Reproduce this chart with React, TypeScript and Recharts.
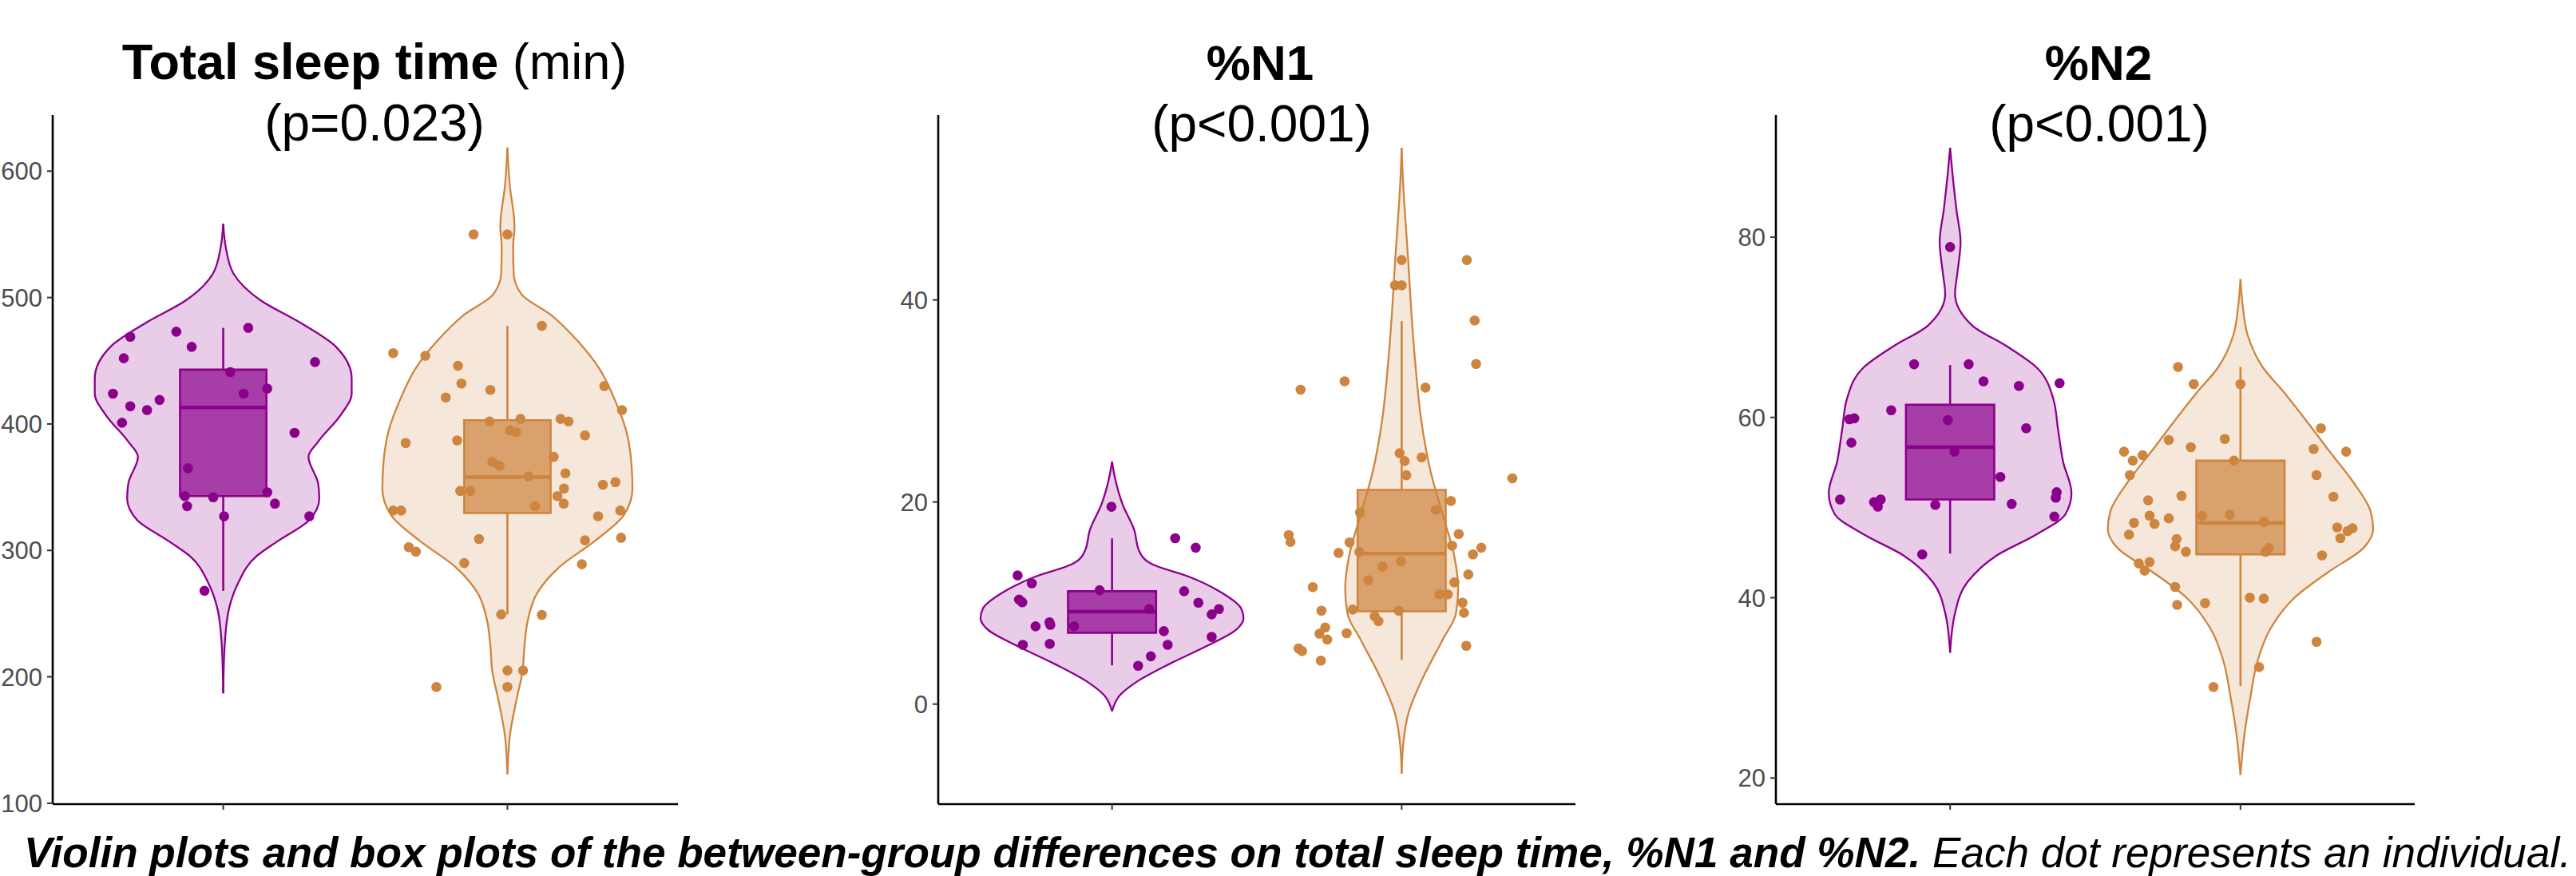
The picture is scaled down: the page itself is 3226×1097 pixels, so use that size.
import {
  ComposedChart,
  Area,
  Scatter,
  XAxis,
  YAxis,
  ReferenceArea,
  ReferenceLine
} from "recharts";

const PURPLE = "#8B008B";
const ORANGE = "#CD853F";
const FONT = "'Liberation Sans', Arial, Helvetica, sans-serif";

// two groups sit at x = 1 and x = 2 on a numeric axis
const GROUP_CENTERS = [1, 2];
const X_DOMAIN = [0.4, 2.6];
const BOX_HALF = 0.152;

// ---- Total sleep time (min) ----
const tstTicks = [100, 200, 300, 400, 500, 600];
const tstPurpleViolinY = [558.5, 539.8, 519, 498, 480, 461, 436, 424, 407, 386, 374, 353, 341, 324, 307.5, 295, 274, 253.5, 224.5, 187];
const tstPurpleViolinW = [0, 0.009, 0.036, 0.13, 0.272, 0.397, 0.452, 0.452, 0.413, 0.334, 0.3, 0.334, 0.338, 0.303, 0.193, 0.115, 0.052, 0.02, 0.005, 0];
const tstOrangeViolinY = [618.7, 589.6, 556.4, 539.8, 519, 502.5, 486, 465, 444, 419, 394.6, 369.7, 349, 328, 307.5, 286.7, 266, 245, 224.5, 204, 183, 154, 123];
const tstOrangeViolinW = [0, 0.008, 0.025, 0.02, 0.022, 0.05, 0.155, 0.25, 0.323, 0.378, 0.418, 0.436, 0.44, 0.41, 0.308, 0.182, 0.104, 0.072, 0.06, 0.053, 0.033, 0.009, 0];
// [lower whisker, q1, median, q3, upper whisker]
const tstPurpleBox = [268, 343, 413, 443, 476];
const tstOrangeBox = [249.4, 329.5, 358, 403, 477.6];
const tstPurpleJitter = [-0.327, -0.35, -0.388, -0.327, -0.268, -0.224, -0.356, -0.165, -0.111, 0.025, 0.088, 0.072, 0.155, 0.323, 0.251, -0.124, -0.135, -0.127, -0.035, 0.155, 0.182, 0.003, 0.303, -0.066];
const tstPurpleValues = [469, 452, 424, 414, 411, 419, 401, 473, 461, 441, 476, 424, 428, 449, 393, 365, 343, 335, 342, 346, 337, 327, 327, 268];
const tstOrangeJitter = [-0.119, 0, 0.121, -0.402, -0.289, -0.174, -0.162, -0.06, -0.217, 0.341, 0.403, -0.063, 0.046, 0.187, 0.215, 0.009, 0.03, 0.273, -0.358, -0.177, 0.163, -0.053, -0.028, 0.204, 0.074, -0.166, -0.13, 0.199, 0.176, 0.198, 0.097, 0.38, 0.336, -0.402, -0.374, 0.319, 0.397, -0.1, 0.273, 0.4, -0.347, -0.322, -0.152, 0.262, -0.022, 0.121, 0, 0.055, -0.25, 0];
const tstOrangeValues = [550, 550, 477.6, 456, 454, 446, 432, 427, 421, 430, 411, 402, 404, 404, 402, 395, 393.5, 391, 385, 387, 374, 370, 367, 361, 358.5, 347, 347, 349, 343, 337, 335, 354, 352, 331.5, 331.5, 327, 331.5, 309, 308, 310, 302.5, 299, 290, 289, 249.4, 249, 205, 205, 192, 192];

// ---- %N1 ----
const n1Ticks = [0, 20, 40];
const n1PurpleViolinY = [24, 22.4, 19.8, 17.2, 15.2, 13.9, 12.6, 11, 9.45, 8.5, 7.4, 5.8, 4, 2.2, 0.9, -0.7];
const n1PurpleViolinW = [0, 0.01, 0.036, 0.077, 0.093, 0.134, 0.266, 0.38, 0.446, 0.454, 0.43, 0.331, 0.2, 0.085, 0.028, 0];
const n1OrangeViolinY = [55.06, 51.5, 47.9, 43.7, 38.5, 33.4, 28.2, 23, 18.8, 14.6, 11.5, 8.94, 6.34, 2.7, -0.94, -4.05, -6.9];
const n1OrangeViolinW = [0, 0.005, 0.013, 0.023, 0.034, 0.048, 0.067, 0.1, 0.141, 0.182, 0.195, 0.187, 0.141, 0.075, 0.023, 0.005, 0];
const n1PurpleBox = [3.84, 7.06, 9.14, 11.17, 16.4];
const n1OrangeBox = [4.36, 9.19, 14.9, 21.2, 37.9];
const n1PurpleJitter = [-0.326, -0.277, -0.321, -0.31, -0.264, -0.216, -0.213, -0.308, -0.215, -0.131, -0.043, -0.002, 0.128, 0.179, 0.192, 0.134, 0.09, 0.218, 0.289, 0.249, 0.298, 0.344, 0.369, 0.344];
const n1PurpleValues = [12.73, 11.95, 10.34, 10.08, 7.69, 8.1, 7.84, 5.87, 5.97, 7.69, 11.27, 19.53, 9.4, 7.22, 5.87, 4.73, 3.79, 16.42, 15.48, 11.17, 10.03, 8.88, 9.4, 6.65];
const n1OrangeJitter = [0, 0.225, -0.023, 0, 0.252, 0.257, -0.197, -0.349, 0.082, -0.007, 0.01, 0.069, 0.016, 0.382, 0.17, -0.144, 0.118, -0.39, -0.384, -0.18, 0.197, -0.218, -0.146, -0.066, -0.003, 0.174, 0.246, 0.275, -0.115, -0.307, 0.182, 0.23, 0.131, 0.159, -0.277, -0.169, -0.01, 0.21, 0.215, -0.093, -0.08, -0.264, -0.284, -0.19, -0.257, -0.356, -0.344, 0.223, -0.279];
const n1OrangeValues = [43.95, 43.95, 41.45, 41.45, 37.97, 33.66, 31.95, 31.12, 31.32, 24.83, 24.05, 24.42, 22.65, 22.34, 20.1, 18.96, 19.22, 16.73, 16.05, 16, 16.83, 14.96, 15.06, 13.61, 14.13, 15.69, 14.81, 15.48, 12.26, 11.58, 12.05, 12.83, 10.86, 10.86, 9.25, 9.35, 9.25, 10.03, 9.04, 8.68, 8.21, 7.58, 6.96, 7.01, 6.39, 5.51, 5.25, 5.77, 4.31];

// ---- %N2 ----
const n2Ticks = [20, 40, 60, 80];
const n2PurpleViolinY = [89.9, 87.1, 83, 79.5, 76, 73.7, 70.2, 67.9, 65.6, 62.1, 58.6, 55.1, 51.6, 49.3, 47, 44.7, 41.7, 38.3, 33.9];
const n2PurpleViolinW = [0, 0.008, 0.022, 0.036, 0.025, 0.017, 0.076, 0.195, 0.296, 0.355, 0.372, 0.389, 0.418, 0.398, 0.296, 0.161, 0.059, 0.017, 0];
const n2OrangeViolinY = [75.35, 72.6, 69.1, 65.6, 62.7, 59.2, 56.3, 52.8, 49.6, 47.6, 45.5, 42.9, 40, 36.5, 33, 28.95, 24.9, 20.35];
const n2OrangeViolinW = [0, 0.007, 0.025, 0.076, 0.152, 0.237, 0.305, 0.389, 0.448, 0.457, 0.423, 0.305, 0.186, 0.102, 0.059, 0.034, 0.014, 0];
const n2PurpleBox = [44.9, 50.9, 56.7, 61.4, 65.8];
const n2OrangeBox = [30.2, 44.8, 48.3, 55.2, 65.6];
const n2PurpleJitter = [0, -0.124, 0.064, 0.115, 0.237, 0.377, -0.203, -0.347, -0.33, -0.34, -0.008, 0.262, 0.015, 0.173, -0.379, -0.262, -0.239, -0.249, -0.051, 0.212, 0.367, 0.364, 0.359, -0.096];
const n2PurpleValues = [78.9, 65.9, 65.9, 64, 63.5, 63.8, 60.8, 59.8, 59.9, 57.2, 59.7, 58.8, 56.2, 53.4, 50.9, 50.6, 50.9, 50.1, 50.3, 50.4, 51.7, 51.1, 49, 44.8];
const n2OrangeJitter = [-0.215, -0.161, 0, 0.277, -0.247, -0.054, -0.171, -0.401, -0.337, -0.371, 0.252, 0.364, -0.022, -0.381, 0.262, -0.318, -0.203, 0.32, -0.313, -0.132, -0.037, -0.367, -0.296, -0.247, 0.081, 0.333, 0.386, 0.369, 0.344, -0.384, -0.22, -0.225, -0.188, 0.086, 0.098, 0.281, -0.35, -0.313, -0.33, -0.225, -0.218, -0.122, 0.032, 0.08, 0.262, 0.064, -0.093];
const n2OrangeValues = [65.6, 63.7, 63.7, 58.8, 57.5, 57.6, 56.7, 56.2, 55.8, 55.2, 56.5, 56.2, 55.2, 53.6, 53.6, 50.8, 51.3, 51.2, 49.1, 49.1, 49.2, 48.3, 48.2, 48.8, 48.4, 47.8, 47.7, 47.4, 46.6, 47, 46.5, 45.7, 45.1, 45.1, 45.5, 44.7, 43.8, 43.95, 43, 41.2, 39.2, 39.4, 40, 39.9, 35.1, 32.3, 30.1];

type Group = {
  color: string;
  violinY: number[];
  violinW: number[];
  box: number[];
  jitter: number[];
  values: number[];
};

// one row per y level, each violin as a [left, right] range (nulls where it is absent)
function buildViolinRows(groups: Group[]) {
  const rows = new Map<number, any>();
  groups.forEach((g, gi) => {
    const c = GROUP_CENTERS[gi];
    g.violinY.forEach((y, i) => {
      const row = rows.get(y) ?? { y };
      row[`v${gi}`] = [c - g.violinW[i], c + g.violinW[i]];
      rows.set(y, row);
    });
  });
  const list = [...rows.values()].sort((a, b) => b.y - a.y);
  list.forEach((r) => {
    groups.forEach((_, gi) => {
      if (!r[`v${gi}`]) r[`v${gi}`] = [null, null];
    });
  });
  return list;
}

function ViolinPanel({ left, width, domain, ticks, groups }: { left: number; width: number; domain: number[]; ticks: number[]; groups: Group[] }) {
  const rows = buildViolinRows(groups);
  return (
    <div style={{ position: "absolute", left, top: 0 }}>
      <ComposedChart
        width={width}
        height={1040}
        layout="vertical"
        data={rows}
        margin={{ top: 144, right: 20, bottom: 17, left: 0 }}
      >
        <XAxis
          type="number"
          dataKey="x"
          domain={X_DOMAIN}
          allowDataOverflow
          ticks={GROUP_CENTERS}
          interval={0}
          height={16}
          tickFormatter={() => ""}
          tickSize={7}
          axisLine={{ stroke: "#000", strokeWidth: 2.6 }}
          tickLine={{ stroke: "#333", strokeWidth: 2 }}
        />
        <YAxis
          type="number"
          dataKey="y"
          domain={domain}
          allowDataOverflow
          reversed
          ticks={ticks}
          interval={0}
          width={66}
          tickSize={7}
          tickMargin={6}
          tick={{ fill: "#4D4D4D", fontSize: 31, fontFamily: FONT }}
          axisLine={{ stroke: "#000", strokeWidth: 2.6 }}
          tickLine={{ stroke: "#333", strokeWidth: 2 }}
        />
        {groups.map((g, gi) => (
          <Area
            key={`violin-${gi}`}
            dataKey={`v${gi}`}
            type="monotone"
            connectNulls
            fill={g.color}
            fillOpacity={0.2}
            stroke={g.color}
            strokeWidth={2.3}
            dot={false}
            activeDot={false}
            isAnimationActive={false}
          />
        ))}
        {groups.map((g, gi) => {
          const c = GROUP_CENTERS[gi];
          const [lo, q1, med, q3, hi] = g.box;
          return [
            <ReferenceLine key={`wu-${gi}`} segment={[{ x: c, y: q3 }, { x: c, y: hi }]} stroke={g.color} strokeWidth={2.6} ifOverflow="visible" />,
            <ReferenceLine key={`wl-${gi}`} segment={[{ x: c, y: lo }, { x: c, y: q1 }]} stroke={g.color} strokeWidth={2.6} ifOverflow="visible" />,
            <ReferenceArea
              key={`box-${gi}`}
              x1={c - BOX_HALF}
              x2={c + BOX_HALF}
              y1={q1}
              y2={q3}
              fill={g.color}
              fillOpacity={0.7}
              stroke={g.color}
              strokeOpacity={1}
              strokeWidth={2.6}
              ifOverflow="visible"
            />,
            <ReferenceLine key={`med-${gi}`} segment={[{ x: c - BOX_HALF, y: med }, { x: c + BOX_HALF, y: med }]} stroke={g.color} strokeWidth={4.5} ifOverflow="visible" />
          ];
        })}
        {groups.map((g, gi) => (
          <Scatter
            key={`pts-${gi}`}
            data={g.values.map((v, i) => ({ x: GROUP_CENTERS[gi] + g.jitter[i], y: v }))}
            fill={g.color}
            shape={(p: any) => <circle cx={p.cx} cy={p.cy} r={6.3} fill={g.color} />}
            isAnimationActive={false}
          />
        ))}
      </ComposedChart>
    </div>
  );
}

const tstGroups: Group[] = [
  { color: PURPLE, violinY: tstPurpleViolinY, violinW: tstPurpleViolinW, box: tstPurpleBox, jitter: tstPurpleJitter, values: tstPurpleValues },
  { color: ORANGE, violinY: tstOrangeViolinY, violinW: tstOrangeViolinW, box: tstOrangeBox, jitter: tstOrangeJitter, values: tstOrangeValues }
];
const n1Groups: Group[] = [
  { color: PURPLE, violinY: n1PurpleViolinY, violinW: n1PurpleViolinW, box: n1PurpleBox, jitter: n1PurpleJitter, values: n1PurpleValues },
  { color: ORANGE, violinY: n1OrangeViolinY, violinW: n1OrangeViolinW, box: n1OrangeBox, jitter: n1OrangeJitter, values: n1OrangeValues }
];
const n2Groups: Group[] = [
  { color: PURPLE, violinY: n2PurpleViolinY, violinW: n2PurpleViolinW, box: n2PurpleBox, jitter: n2PurpleJitter, values: n2PurpleValues },
  { color: ORANGE, violinY: n2OrangeViolinY, violinW: n2OrangeViolinW, box: n2OrangeBox, jitter: n2OrangeJitter, values: n2OrangeValues }
];

export default function App() {
  return (
    <div style={{ position: "absolute", left: 0, top: 0, width: 3226, height: 1097, background: "#fff", overflow: "hidden" }}>
      <ViolinPanel left={0} width={869} domain={[99.3, 644.4]} ticks={tstTicks} groups={tstGroups} />
      <ViolinPanel left={1109} width={884} domain={[-9.9, 58.3]} ticks={n1Ticks} groups={n1Groups} />
      <ViolinPanel left={2158} width={886} domain={[17.1, 93.55]} ticks={n2Ticks} groups={n2Groups} />
      <svg width={3226} height={1097} style={{ position: "absolute", left: 0, top: 0, pointerEvents: "none" }}>
        <g fontFamily={FONT} fill="#000" textAnchor="middle">
          <text x={469} y={99} fontSize={63}>
            <tspan fontWeight="bold">Total sleep time</tspan>
            <tspan> (min)</tspan>
          </text>
          <text x={469} y={176} fontSize={64}>(p=0.023)</text>
          <text x={1578} y={100} fontSize={62} fontWeight="bold">%N1</text>
          <text x={1580} y={177} fontSize={64}>(p&lt;0.001)</text>
          <text x={2628} y={100} fontSize={62} fontWeight="bold">%N2</text>
          <text x={2629} y={177} fontSize={64}>(p&lt;0.001)</text>
        </g>
        <text
          x={30}
          y={1086}
          fontFamily={FONT}
          fontSize={53}
          fontStyle="italic"
          fill="#000"
          textLength={3190}
          lengthAdjust="spacingAndGlyphs"
        >
          <tspan fontWeight="bold">Violin plots and box plots of the between-group differences on total sleep time, %N1 and %N2.</tspan>
          <tspan> Each dot represents an individual.</tspan>
        </text>
      </svg>
    </div>
  );
}
